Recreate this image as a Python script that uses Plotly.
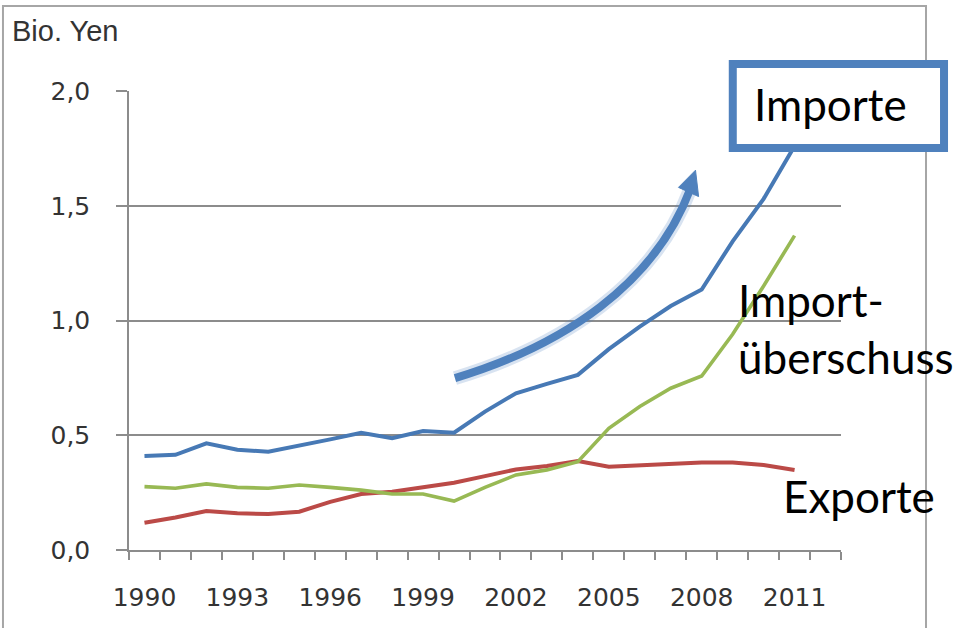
import plotly.graph_objects as go

years = list(range(1990, 2012))
importe = [0.410, 0.415, 0.465, 0.437, 0.428, 0.453, 0.482, 0.511, 0.487, 0.518, 0.511,
           0.603, 0.683, 0.724, 0.763, 0.875, 0.973, 1.063, 1.135, 1.345, 1.530, 1.760]
exporte = [0.119, 0.142, 0.170, 0.160, 0.157, 0.167, 0.210, 0.244, 0.254, 0.273, 0.293,
           0.322, 0.351, 0.366, 0.388, 0.363, 0.370, 0.375, 0.381, 0.381, 0.370, 0.349]
ueberschuss = [0.276, 0.269, 0.288, 0.273, 0.269, 0.283, 0.273, 0.261, 0.244, 0.244, 0.213,
               0.273, 0.327, 0.349, 0.385, 0.530, 0.625, 0.705, 0.758, 0.940, 1.150, 1.370]
tick_years = [1990, 1993, 1996, 1999, 2002, 2005, 2008, 2011]
y_ticks = [0.0, 0.5, 1.0, 1.5, 2.0]

BLUE = "#4779b5"
RED = "#bb4a47"
GREEN = "#98b954"
GRID = "#8c8c8c"

fig = go.Figure()
fig.add_trace(go.Scatter(x=years, y=importe, mode="lines", name="Importe",
                         line=dict(color=BLUE, width=4)))
fig.add_trace(go.Scatter(x=years, y=exporte, mode="lines", name="Exporte",
                         line=dict(color=RED, width=4)))
fig.add_trace(go.Scatter(x=years, y=ueberschuss, mode="lines", name="Importüberschuss",
                         line=dict(color=GREEN, width=3.6)))

shapes = [
    # outer chart frame
    dict(type="rect", xref="paper", yref="paper", x0=-0.177, x1=1.1194, y0=-0.25, y1=1.185,
         line=dict(color="#a6a6a6", width=2), fillcolor="rgba(0,0,0,0)", layer="below"),
    # curved trend arrow (soft glow + body + head)
    dict(type="path", xref="x", yref="y",
         path="M 2000.03 0.749 C 2003.58 0.893, 2006.49 1.163, 2007.62 1.569",
         line=dict(color="rgba(79,129,189,0.22)", width=14), layer="above"),
    dict(type="path", xref="x", yref="y",
         path="M 2000.03 0.749 C 2003.58 0.893, 2006.49 1.163, 2007.62 1.569",
         line=dict(color="#4f81bd", width=8), layer="above"),
    dict(type="path", xref="x", yref="y",
         path="M 2007.80 1.655 L 2007.90 1.540 L 2007.25 1.580 Z",
         line=dict(color="#4f81bd", width=1), fillcolor="#4f81bd", layer="above"),
    # callout box
    dict(type="rect", xref="paper", yref="paper", x0=0.848, x1=1.1447, y0=0.876, y1=1.0588,
         line=dict(color="#4f81bd", width=8), fillcolor="white", layer="above"),
]

CALLOUT = dict(family="Lato, Carlito, sans-serif", size=44, color="black")
annotations = [
    dict(text="Importe", xref="paper", yref="paper", x=0.9846, y=0.972,
         xanchor="center", yanchor="middle", showarrow=False, font=CALLOUT),
    dict(text="Import-", xref="paper", yref="paper", x=(736 - 129) / 712, y=(550 - 300) / 459,
         xanchor="left", yanchor="middle", showarrow=False, font=CALLOUT),
    dict(text="überschuss", xref="paper", yref="paper", x=(736 - 129) / 712, y=(550 - 357) / 459,
         xanchor="left", yanchor="middle", showarrow=False, font=CALLOUT),
    dict(text="Exporte", xref="paper", yref="paper", x=(781 - 129) / 712, y=(550 - 496) / 459,
         xanchor="left", yanchor="middle", showarrow=False, font=CALLOUT),
    dict(text="Bio. Yen", xref="paper", yref="paper", x=(10 - 129) / 712, y=(550 - 31) / 459,
         xanchor="left", yanchor="middle", showarrow=False,
         font=dict(family="Liberation Sans, Arial, sans-serif", size=29, color="#333333")),
]

fig.update_layout(
    width=955, height=628,
    margin=dict(l=129, r=114, t=91, b=78),
    paper_bgcolor="white", plot_bgcolor="white",
    showlegend=False,
    separators=",.",
    shapes=shapes,
    annotations=annotations,
    font=dict(family="DejaVu Sans, Verdana, sans-serif", size=25, color="#333333"),
)
fig.update_xaxes(
    type="linear", range=[1989.5, 2012.5], tickvals=tick_years, ticks="",
    showgrid=False, zeroline=False, showline=True, linecolor=GRID, linewidth=1.5,
    ticklabelstandoff=24,
    minor=dict(tick0=1989.5, dtick=1, ticks="outside", ticklen=8, tickcolor=GRID,
               tickwidth=1.5, showgrid=False),
)
fig.update_yaxes(
    range=[0, 2.0], tickvals=y_ticks, tickformat=".1f", ticks="outside", ticklen=11,
    tickcolor=GRID, tickwidth=1.5, showgrid=True, gridcolor=GRID, gridwidth=1.5,
    zeroline=False, showline=True, linecolor=GRID, linewidth=1.5,
    ticklabelstandoff=21,
)

fig.write_html(
    "out.html",
    config={"displayModeBar": False},
    post_script="document.body.style.margin='0';document.body.style.overflow='hidden';",
)
